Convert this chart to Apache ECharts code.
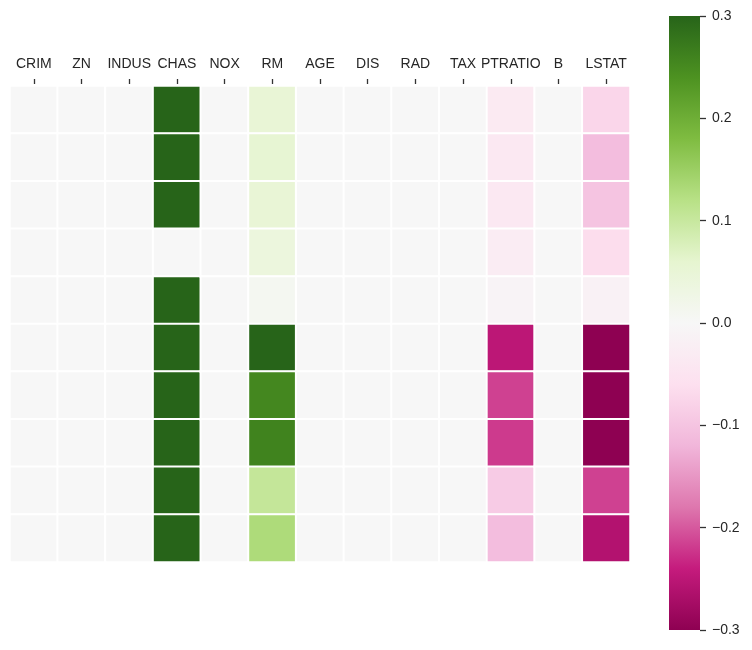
<!DOCTYPE html>
<html>
<head>
<meta charset="utf-8">
<script src="https://cdn.jsdelivr.net/npm/echarts@6/dist/echarts.min.js"></script>
<style>
  html, body { margin: 0; padding: 0; background: #fff; }
  #main { width: 752px; height: 650px; }
</style>
</head>
<body>
<div id="main"></div>
<script>
var features = ['CRIM', 'ZN', 'INDUS', 'CHAS', 'NOX', 'RM', 'AGE', 'DIS', 'RAD', 'TAX', 'PTRATIO', 'B', 'LSTAT'];
var rows = ['0', '1', '2', '3', '4', '5', '6', '7', '8', '9'];

// one array per feature, top row first
var crim    = [0, 0, 0, 0, 0, 0, 0, 0, 0, 0];
var zn      = [0, 0, 0, 0, 0, 0, 0, 0, 0, 0];
var indus   = [0, 0, 0, 0, 0, 0, 0, 0, 0, 0];
var chas    = [0.3, 0.3, 0.3, 0, 0.3, 0.3, 0.3, 0.3, 0.3, 0.3];
var nox     = [0, 0, 0, 0, 0, 0, 0, 0, 0, 0];
var rm      = [0.05, 0.055, 0.05, 0.04, 0.01, 0.3, 0.255, 0.26, 0.105, 0.13];
var age     = [0, 0, 0, 0, 0, 0, 0, 0, 0, 0];
var dis     = [0, 0, 0, 0, 0, 0, 0, 0, 0, 0];
var rad     = [0, 0, 0, 0, 0, 0, 0, 0, 0, 0];
var tax     = [0, 0, 0, 0, 0, 0, 0, 0, 0, 0];
var ptratio = [-0.035, -0.04, -0.04, -0.03, -0.01, -0.25, -0.215, -0.22, -0.09, -0.11];
var b       = [0, 0, 0, 0, 0, 0, 0, 0, 0, 0];
var lstat   = [-0.075, -0.11, -0.1, -0.065, -0.015, -0.3, -0.3, -0.3, -0.215, -0.26];

var colorMin = -0.3, colorMax = 0.3, colorStep = 0.1;

var columns = [crim, zn, indus, chas, nox, rm, age, dis, rad, tax, ptratio, b, lstat];
var data = [];
columns.forEach(function (col, i) {
    col.forEach(function (v, j) {
        data.push([i, j, v]);
    });
});

// PiYG, low -> high
var piyg = ['#8e0152', '#c51b7d', '#de77ae', '#f1b6da', '#fde0ef', '#f7f7f7',
            '#e6f5d0', '#b8e186', '#7fbc41', '#4d9221', '#276419'];

var font = 'Liberation Sans, Arial, sans-serif';
var txt = '#262626';
var bar = { left: 669, top: 16, width: 31, height: 614 };

// gradient for the colour bar, top = high
var stops = piyg.slice().reverse().map(function (c, i) {
    return { offset: i / (piyg.length - 1), color: c };
});

var myChart = echarts.init(document.getElementById('main'));
myChart.setOption({
    animation: false,
    grid: [
        { left: 10, top: 86, width: 620, height: 476 },
        { left: bar.left, top: bar.top, width: bar.width, height: bar.height }
    ],
    xAxis: [{
        type: 'category',
        data: features,
        position: 'top',
        offset: 2,
        gridIndex: 0,
        axisLine: { show: false },
        axisTick: { show: true, alignWithLabel: true, length: 5, lineStyle: { color: '#333', width: 1.3 } },
        axisLabel: { color: txt, fontSize: 14, fontFamily: font, margin: 13, interval: 0 },
        splitLine: { show: false }
    }, {
        type: 'value',
        gridIndex: 1,
        min: 0,
        max: 1,
        show: false
    }],
    yAxis: [{
        type: 'category',
        data: rows,
        inverse: true,
        gridIndex: 0,
        show: false
    }, {
        type: 'value',
        gridIndex: 1,
        position: 'right',
        min: colorMin,
        max: colorMax,
        interval: colorStep,
        axisLine: { show: false, onZero: false },
        axisTick: { show: true, inside: false, length: 6, lineStyle: { color: '#333', width: 1.3 } },
        axisLabel: {
            color: txt, fontSize: 14, fontFamily: font, margin: 12,
            formatter: function (v) {
                var s = Math.abs(v).toFixed(1);
                return v < -1e-9 ? '\u2212' + s : s;
            }
        },
        splitLine: { show: false }
    }],
    visualMap: {
        type: 'continuous',
        min: colorMin,
        max: colorMax,
        seriesIndex: 0,
        show: false,
        inRange: { color: piyg }
    },
    graphic: [{
        type: 'rect',
        left: bar.left,
        top: bar.top,
        shape: { width: bar.width, height: bar.height },
        style: { fill: new echarts.graphic.LinearGradient(0, 0, 0, 1, stops) },
        z: -1
    }],
    series: [{
        type: 'heatmap',
        xAxisIndex: 0,
        yAxisIndex: 0,
        data: data,
        itemStyle: { borderColor: '#fff', borderWidth: 2 },
        emphasis: { disabled: true }
    }, {
        type: 'line',
        xAxisIndex: 1,
        yAxisIndex: 1,
        data: [],
        silent: true
    }]
});
</script>
</body>
</html>
